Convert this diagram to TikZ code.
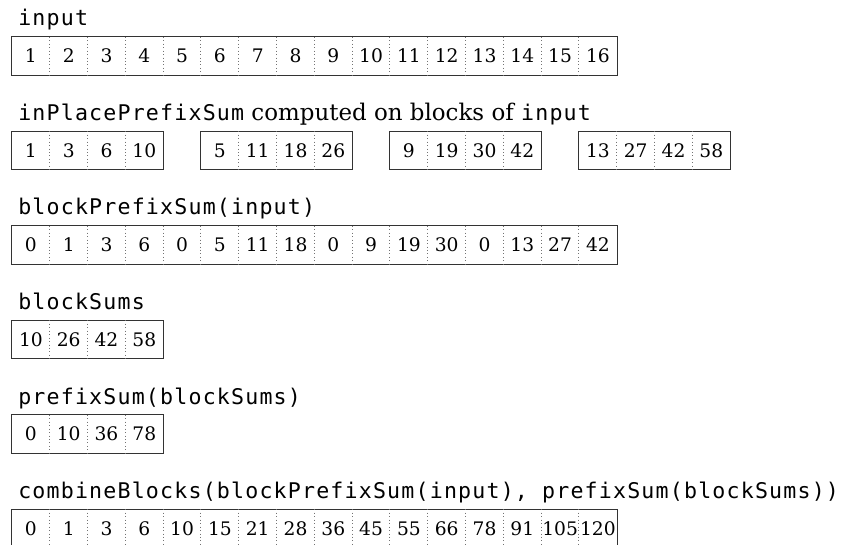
\documentclass[tikz,border=0pt]{standalone}
\usepackage{fontspec}
\setmainfont{DejaVu Serif}
\newfontfamily\codefont[LetterSpace=5.5]{DejaVu Sans Mono}
\begin{document}
\begin{tikzpicture}[x=0.75pt,y=-0.75pt,
  cell/.style={inner sep=0pt, minimum width=28.35pt, minimum height=28.5pt,
    font=\fontsize{14pt}{16pt}\selectfont},
  frame/.style={draw=black!80, line width=0.8pt},
  divider/.style={draw=black!55, line width=0.6pt, dotted},
  lbl/.style={inner sep=0pt, anchor=base west,
    font=\fontsize{16.2pt}{19pt}\selectfont}]
\clip (0,0) rectangle (849,545);
\fill[white] (0,0) rectangle (849,545);

% one framed strip of cells: name, left edge, top edge, values
\newcommand\drawcells[4]{%
  \foreach \v [count=\i] in {#4} {
    \node[cell] (#1-\i) at ({#2+(\i-0.5)*37.8},{#3+19}) {\v};
    \xdef\lastcell{\i}
  }
  \draw[frame] (#1-1.north west) rectangle (#1-\lastcell.south east);
  \foreach \k in {2,...,\lastcell} {
    \draw[divider] (#1-\k.north west) -- (#1-\k.south west);
  }
}

% input
\node[lbl] (l1) at (18,26) {\codefont input};
\drawcells{in}{12}{37}{1,2,3,4,5,6,7,8,9,10,11,12,13,14,15,16}

% per-block prefix sums
\node[lbl] (l2) at (18,120.5) {{\codefont inPlacePrefixSum}{\fontsize{17.2pt}{20pt}\selectfont{} computed on blocks of }{\codefont input}};
\drawcells{ba}{12}{131.5}{1,3,6,10}
\drawcells{bb}{201}{131.5}{5,11,18,26}
\drawcells{bc}{390}{131.5}{9,19,30,42}
\drawcells{bd}{579}{131.5}{13,27,42,58}

% exclusive block prefix sums
\node[lbl] (l3) at (18,215) {\codefont blockPrefixSum(input)};
\drawcells{bp}{12}{226}{0,1,3,6,0,5,11,18,0,9,19,30,0,13,27,42}

% block sums
\node[lbl] (l4) at (18,309.5) {\codefont blockSums};
\drawcells{bs}{12}{320.5}{10,26,42,58}

% scanned block sums
\node[lbl] (l5) at (18,404) {\codefont prefixSum(blockSums)};
\drawcells{ps}{12}{415}{0,10,36,78}

% combined result
\node[lbl] (l6) at (18,498.5) {\codefont combineBlocks(blockPrefixSum(input), prefixSum(blockSums))};
\drawcells{cb}{12}{509.5}{0,1,3,6,10,15,21,28,36,45,55,66,78,91,105,120}
\end{tikzpicture}
\end{document}
